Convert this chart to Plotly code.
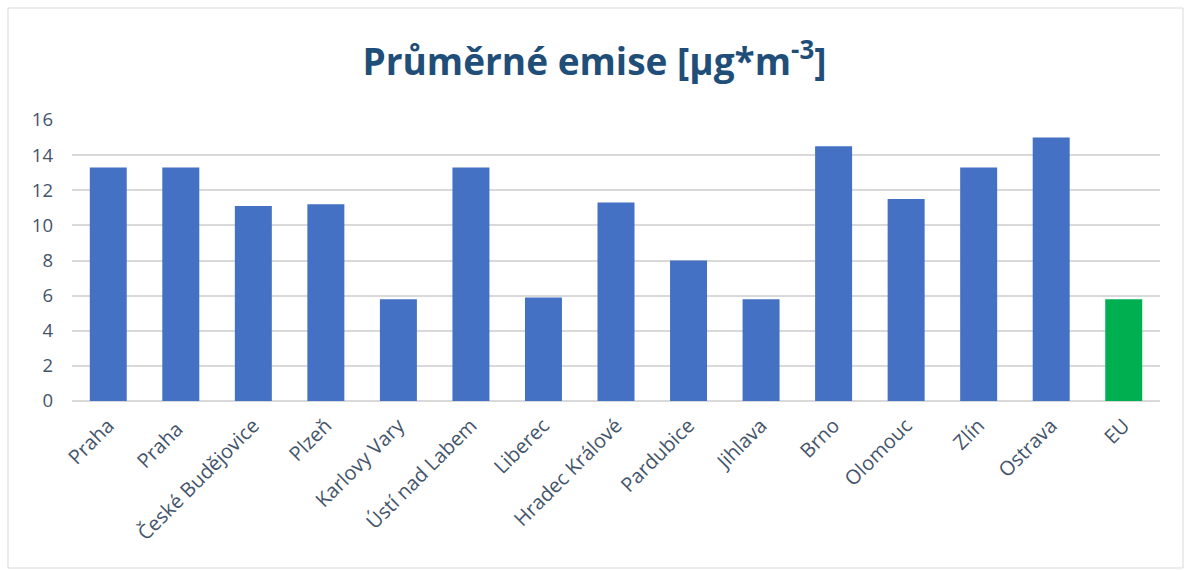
import plotly.graph_objects as go

cities = ["Praha", "Praha ", "České Budějovice", "Plzeň", "Karlovy Vary", "Ústí nad Labem",
          "Liberec", "Hradec Králové", "Pardubice", "Jihlava", "Brno", "Olomouc", "Zlín",
          "Ostrava", "EU"]
values = [13.3, 13.3, 11.1, 11.2, 5.8, 13.3, 5.9, 11.3, 8.0, 5.8, 14.5, 11.5, 13.3, 15.0, 5.8]
tick_vals = [0, 2, 4, 6, 8, 10, 12, 14, 16]

colors = ["#4471C4"] * (len(cities) - 1) + ["#00B050"]

fig = go.Figure(go.Bar(
    x=cities, y=values,
    marker=dict(color=colors, line=dict(width=0)),
))

fig.update_layout(
    width=1189, height=570,
    paper_bgcolor="white", plot_bgcolor="white",
    margin=dict(l=72, r=29, t=120, b=169),
    bargap=0.49,
    showlegend=False,
    font=dict(family="Open Sans, Lato, sans-serif", color="#44546A"),
    title=dict(
        text="<b>Průměrné emise [µg*m<sup>-3</sup>]</b>",
        x=0.5, xanchor="center", y=1 - 62 / 570, yanchor="middle",
        font=dict(size=37, color="#1F4E79", family="Open Sans, Lato, sans-serif"),
    ),
    xaxis=dict(
        tickangle=-45, tickfont=dict(size=20, color="#44546A"),
        showgrid=False, showline=False, ticks="", ticklabelstandoff=8,
    ),
    yaxis=dict(
        range=[0, 16], tickvals=tick_vals,
        tickfont=dict(size=18.5, color="#44546A"),
        showgrid=True, gridcolor="#D9D9D9", gridwidth=1.5,
        zeroline=True, zerolinecolor="#D9D9D9", zerolinewidth=1.5,
        showline=False, ticks="", ticklabelstandoff=18,
    ),
    shapes=[dict(
        type="rect", xref="paper", yref="paper",
        x0=(8 - 72) / 1088, x1=(1183 - 72) / 1088,
        y0=-(568 - 401) / 281, y1=1 + (120 - 8) / 281,
        line=dict(color="#D9D9D9", width=1), layer="below",
    )],
)

fig.write_html("out.html")
